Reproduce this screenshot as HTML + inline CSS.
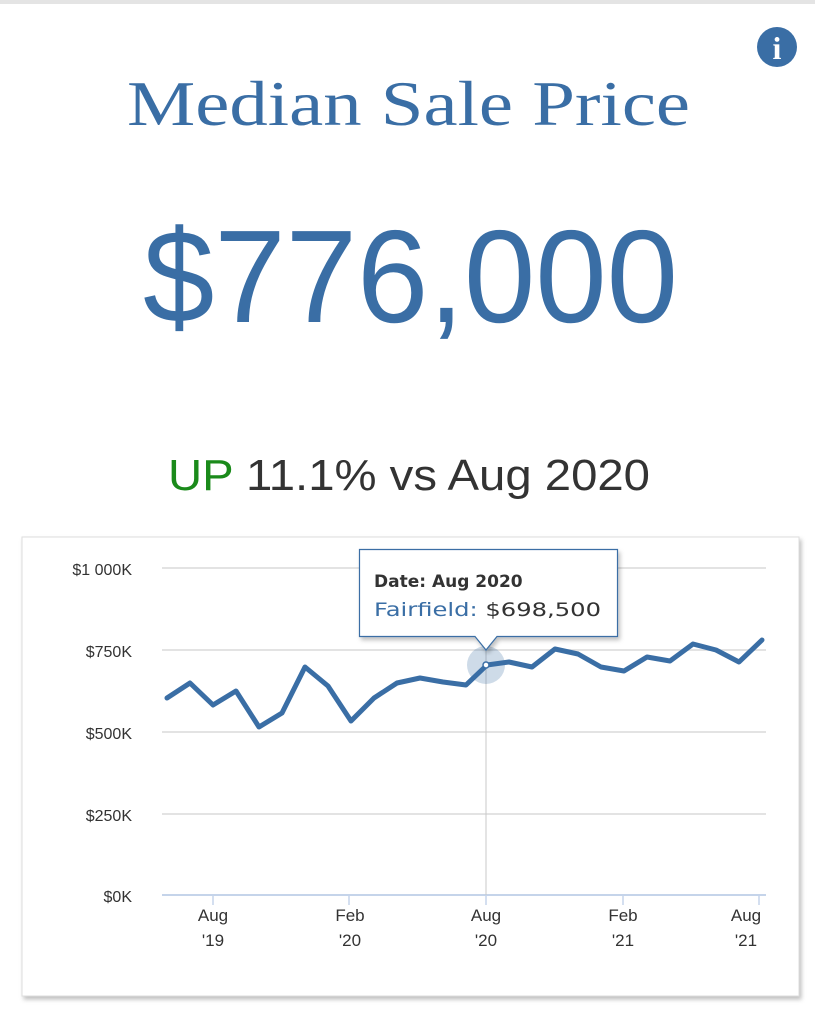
<!DOCTYPE html>
<html><head><meta charset="utf-8"><style>
html,body{margin:0;padding:0;background:#fff;}
svg{display:block;}
</style></head><body>
<svg width="815" height="1023" xmlns="http://www.w3.org/2000/svg">
<defs><filter id="sh" x="-5%" y="-5%" width="110%" height="110%"><feDropShadow dx="2" dy="3" stdDeviation="2" flood-color="#000" flood-opacity="0.25"/></filter></defs>
<rect x="0" y="0" width="815" height="4" fill="#e4e4e4"/>
<circle cx="777" cy="47" r="20" fill="#3a6ea5"/>
<text x="777" y="59" text-anchor="middle" font-family="Liberation Serif, serif" font-weight="bold" font-size="32" fill="#fff">i</text>
<text x="127" y="125" font-family="Liberation Serif, serif" font-size="64" fill="#3a6ea5" textLength="563" lengthAdjust="spacingAndGlyphs">Median Sale Price</text>
<text x="143" y="322" font-family="Liberation Sans, sans-serif" font-size="132" fill="#3a6ea5" textLength="535" lengthAdjust="spacingAndGlyphs">$776,000</text>
<text x="168" y="490" font-family="Liberation Sans, sans-serif" font-size="44" fill="#333" textLength="482" lengthAdjust="spacingAndGlyphs"><tspan fill="#1a8a1a">UP</tspan> 11.1% vs Aug 2020</text>
<rect x="22" y="537" width="777" height="459" fill="#fff" stroke="#ddd" filter="url(#sh)"/>
<g stroke="#e3e3e3" stroke-width="2">
<line x1="162" y1="568" x2="766" y2="568"/><line x1="162" y1="650" x2="766" y2="650"/>
<line x1="162" y1="732" x2="766" y2="732"/><line x1="162" y1="814" x2="766" y2="814"/>
</g>
<line x1="162" y1="895" x2="766" y2="895" stroke="#c5d4ea" stroke-width="2"/>
<g stroke="#c5d4ea" stroke-width="1.5">
<line x1="213" y1="895" x2="213" y2="905"/><line x1="349" y1="895" x2="349" y2="905"/><line x1="486" y1="895" x2="486" y2="905"/><line x1="623" y1="895" x2="623" y2="905"/><line x1="759" y1="895" x2="759" y2="905"/>
</g>
<g font-family="Liberation Sans, sans-serif" font-size="16" fill="#333" text-anchor="end">
<text x="132" y="575">$1 000K</text><text x="132" y="657">$750K</text><text x="132" y="739">$500K</text><text x="132" y="821">$250K</text><text x="132" y="902">$0K</text>
</g>
<g font-family="Liberation Sans, sans-serif" font-size="17" fill="#333" text-anchor="middle">
<text x="213" y="921">Aug</text><text x="213" y="946">'19</text>
<text x="350" y="921">Feb</text><text x="350" y="946">'20</text>
<text x="486" y="921">Aug</text><text x="486" y="946">'20</text>
<text x="623" y="921">Feb</text><text x="623" y="946">'21</text>
<text x="746" y="921">Aug</text><text x="746" y="946">'21</text>
</g>
<line x1="486" y1="650" x2="486" y2="895" stroke="#c8c8c8" stroke-width="1"/>
<circle cx="486" cy="665" r="19" fill="#3a6ea5" opacity="0.25"/>
<polyline fill="none" stroke="#3a6ea5" stroke-width="5" stroke-linejoin="round" stroke-linecap="round" points="167,698 190,683 213,705 236,691 259,727 282,713 305,667 328,686 351,721 374,698 397,683 420,678 443,682 466,685 487,665 509,662 532,667 555,649 578,654 601,667 624,671 647,657 670,661 693,644 716,650 739,662 762,640"/>
<circle cx="486" cy="665" r="3" fill="#fff" stroke="#3a6ea5" stroke-width="1.5"/>
<path d="M359.5,549.5 H617.5 V636.5 H497 L486,650 L475,636.5 H359.5 Z" fill="#fff" stroke="#3a6ea5" stroke-width="1.2" filter="url(#sh)"/>
<text x="374" y="587" font-family="DejaVu Sans, sans-serif" font-weight="bold" font-size="17" fill="#333">Date: Aug 2020</text>
<text x="374" y="616" font-family="DejaVu Sans, sans-serif" font-size="19" fill="#333" textLength="227" lengthAdjust="spacingAndGlyphs"><tspan fill="#3a6ea5">Fairfield:</tspan> $698,500</text>
</svg>
</body></html>
